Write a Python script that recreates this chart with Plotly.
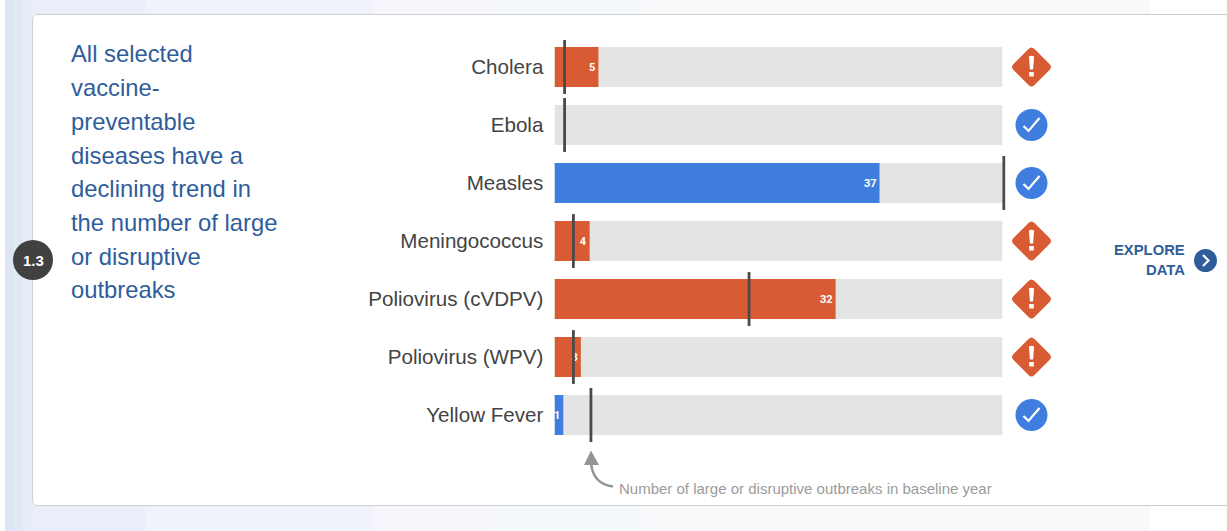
import plotly.graph_objects as go

# ---- data ----
diseases = ["Cholera", "Ebola", "Measles", "Meningococcus", "Poliovirus (cVDPV)", "Poliovirus (WPV)", "Yellow Fever"]
current = [5, 0, 37, 4, 32, 3, 1]
baseline = [1, 1, 51, 2, 22, 2, 4]
on_track = [False, True, True, False, False, False, True]
headline = ["All selected", "vaccine-", "preventable", "diseases have a", "declining trend in",
            "the number of large", "or disruptive", "outbreaks"]
note = "Number of large or disruptive outbreaks in baseline year"
badge = "1.3"
explore = ["EXPLORE", "DATA"]
axis_max = 51

W, H = 1227, 531
ORANGE, BLUE, TRACK, NAVY, DARK = "#d95b33", "#3f7ede", "#e4e4e4", "#2f5d9b", "#4a4a4a"
FONT = "Liberation Sans"


def px(x):
    return x / W


def py(y):
    return 1 - y / H


def paper_rect(x0, y0, x1, y1, color):
    return dict(type="rect", xref="paper", yref="paper", x0=px(x0), x1=px(x1), y0=py(y0), y1=py(y1),
                fillcolor=color, line_width=0, layer="below")


def page_text(x, y, text, size, color, anchor="left", bold=False):
    return dict(xref="paper", yref="paper", x=px(x), y=py(y), text=f"<b>{text}</b>" if bold else text,
                showarrow=False, xanchor=anchor, yanchor="middle", align=anchor,
                font=dict(family=FONT, size=size, color=color))


colors = [BLUE if ok else ORANGE for ok in on_track]
fig = go.Figure()
fig.add_bar(y=diseases, x=[axis_max] * len(diseases), orientation="h", marker=dict(color=TRACK, line_width=0),
            width=0.69, hoverinfo="skip")
fig.add_bar(y=diseases, x=current, orientation="h", marker=dict(color=colors, line_width=0), width=0.69,
            text=[str(v) if v else "" for v in current], textposition="inside", insidetextanchor="end",
            textangle=0, constraintext="none",
            textfont=dict(family="Roboto", size=11, color="white", weight="bold"), cliponaxis=False)
fig.add_scatter(y=diseases, x=baseline, xaxis="x2", yaxis="y", mode="markers", cliponaxis=False,
                marker=dict(symbol="line-ns", size=38.5, line=dict(width=2.8, color=DARK)))

shapes = [paper_rect(0, 0, W, H, "#ffffff")]
# soft page background behind the card
for x0, x1, c in [(5, 145, "#e9eef8"), (145, 372, "#eef3fc"), (372, 493, "#f5f5fb"),
                  (493, 642, "#f3f9fa"), (642, 1150, "#f9f9fb")]:
    shapes.append(paper_rect(x0, 0, x1, 14, c))
    shapes.append(paper_rect(x0, 505, x1, H, c))
shapes += [
    paper_rect(5, 0, 14, H, "#dbe5f3"),
    paper_rect(14, 0, 23, H, "#e1e9f5"),
    paper_rect(23, 0, 33, H, "#e7edf7"),
    dict(type="path", xref="paper", yref="paper", layer="below", fillcolor="white",
         line=dict(color="#cfcfcf", width=1),
         path=f"M {px(32.5)} {py(20)} Q {px(32.5)} {py(14.5)} {px(38)} {py(14.5)} L {px(1240)} {py(14.5)} "
              f"L {px(1240)} {py(505.5)} L {px(38)} {py(505.5)} Q {px(32.5)} {py(505.5)} {px(32.5)} {py(500)} Z"),
    # badge and explore button
    dict(type="circle", xref="paper", yref="paper", x0=px(13), x1=px(53), y0=py(240), y1=py(280),
         fillcolor="#414141", line_width=0),
    dict(type="circle", xref="paper", yref="paper", x0=px(1194), x1=px(1217), y0=py(249), y1=py(272),
         fillcolor=NAVY, line_width=0),
    dict(type="path", xref="paper", yref="paper", line=dict(color="white", width=2.2),
         path=f"M {px(1203)} {py(255)} L {px(1208.5)} {py(260.5)} L {px(1203)} {py(266)}"),
    # note arrow
    dict(type="path", xref="paper", yref="paper", line=dict(color="#949494", width=2.6),
         path=f"M {px(613)} {py(486.5)} Q {px(593)} {py(484)} {px(591)} {py(463)}"),
    dict(type="path", xref="paper", yref="paper", fillcolor="#949494", line_width=0,
         path=f"M {px(591)} {py(450.5)} L {px(599)} {py(465)} L {px(584)} {py(465)} Z"),
]

# status icons, anchored to each category row (pixel offsets: positive y is up)
ICON_X = 1031.5
for name, ok in zip(diseases, on_track):
    base = dict(xref="paper", yref="y", xsizemode="pixel", ysizemode="pixel", xanchor=px(ICON_X), yanchor=name)
    if ok:
        shapes.append(dict(base, type="path", fillcolor=BLUE, line_width=0,
                           path="M -16 0 C -16 8.8 -8.8 16 0 16 C 8.8 16 16 8.8 16 0 "
                                "C 16 -8.8 8.8 -16 0 -16 C -8.8 -16 -16 -8.8 -16 0 Z"))
        shapes.append(dict(base, type="path", line=dict(color="white", width=2.2),
                           path="M -8 -1 L -3 -6 L 8 7"))
    else:
        shapes.append(dict(base, type="path", fillcolor=ORANGE, line_width=0,
                           path="M -3 -18 Q 0 -21 3 -18 L 18 -3 Q 21 0 18 3 L 3 18 Q 0 21 -3 18 "
                                "L -18 3 Q -21 0 -18 -3 Z"))
        shapes.append(dict(base, type="path", fillcolor="white", line_width=0,
                           path="M -2.6 10.5 Q 0 12 2.6 10.5 L 1.6 -2.5 L -1.6 -2.5 Z "
                                "M -2.3 -5 L 2.3 -5 L 2.3 -9.5 L -2.3 -9.5 Z"))

annotations = [page_text(69, 54 + i * 33.7, line, 23.8, NAVY) for i, line in enumerate(headline)]
annotations += [
    page_text(33, 260, badge, 15, "white", "center", True),
    page_text(1186.5, 250, explore[0], 14.8, NAVY, "right", True),
    page_text(1186.5, 270, explore[1], 14.8, NAVY, "right", True),
    page_text(617, 488.5, note, 15, "#9b9b9b"),
]

fig.update_layout(
    width=W, height=H, margin=dict(l=0, r=0, t=0, b=0), autosize=False,
    paper_bgcolor="white", plot_bgcolor="rgba(0,0,0,0)",
    barmode="overlay", showlegend=False, shapes=shapes, annotations=annotations,
    xaxis=dict(domain=[px(554.5), px(1002.5)], range=[0, axis_max], visible=False, fixedrange=True),
    xaxis2=dict(domain=[px(555.8), px(1003.8)], range=[0, axis_max], visible=False, fixedrange=True, anchor="y"),
    yaxis=dict(domain=[py(444), py(38)], range=[6.5, -0.5], showgrid=False, zeroline=False, showline=False,
               ticks="outside", ticklen=6, tickcolor="rgba(0,0,0,0)", fixedrange=True,
               tickfont=dict(family=FONT, size=20.6, color="#444444")),
)
fig.write_html("out.html", config=dict(displayModeBar=False),
               post_script="document.body.style.margin='0';document.body.style.overflow='hidden';")
